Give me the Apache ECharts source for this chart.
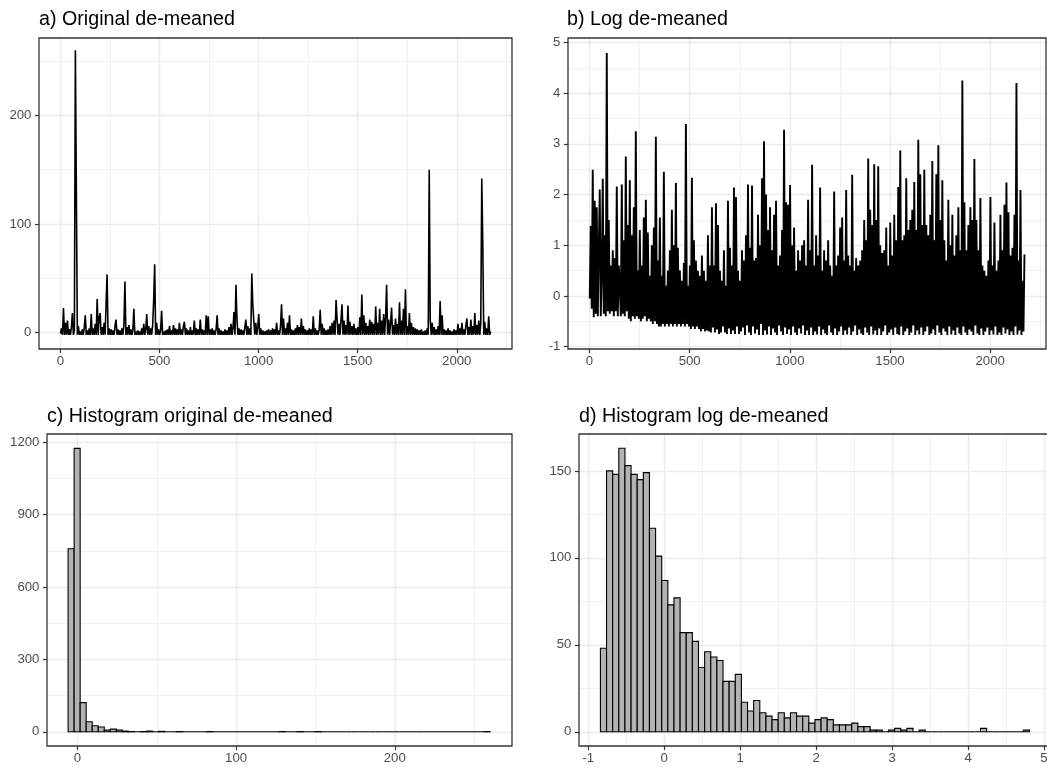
<!DOCTYPE html>
<html>
<head>
<meta charset="utf-8">
<title>De-meaned series</title>
<script src="https://cdn.jsdelivr.net/npm/echarts@6/dist/echarts.min.js"></script>
<style>
html, body { margin: 0; padding: 0; background: #fff; }
#chart { width: 1047px; height: 767px; }
</style>
</head>
<body>
<div id="chart"></div>
<script>
// time series, one value read every 5th observation (index 1, 6, 11, ...)
var seriesStep = 5;
var origVals = [
  -1, 4, -2, 22.6, -2.1, 9, -2, 11, -2.1, 3,
  -2, 5, 18, -2.1, 2, 260, 129, -2, 6, -2.1,
  1, -2.1, 3, -2, 5, 16, -2.1, 2, -2, 4,
  -2.1, 17, -2, 4, -2.1, 8, -2, 31, -2.1, 14,
  18, -2, 5, -2.1, 9, -2, 27, 53.6, -2.1, 4,
  -2.1, 3, -2, 2, -2.1, 6, 12, -2, 3, -2.1,
  2, -2.1, 4, -2, 8, 47, -2.1, 5, -2, 7,
  -2.1, 3, -2, 2, 22, -2.1, 1, -2, 2, -2.1,
  1, -2.1, 4, -2, 8, -2.1, 3, 17, -2, 6,
  -2.1, 4, -2, 7, 30, 63, -2.1, 9, -2, 3,
  -2.1, 2, 20, -2, 1, -2.1, 2, -2, 3, -2.1,
  6, -2.1, 2, -2, 7, -2.1, 4, -2, 3, -2.1,
  9, -2, 3, -2.1, 6, 10, -2, 4, -2.1, 2,
  -2, 5, -2.1, 2, -2, 11, -2.1, 4, -2, 3,
  -2.1, 12, -2, 3, -2.1, 2, -2, 16, -2.1, 15,
  -2, 3, -2.1, 4, -2, 2, -2.1, 3, 16, -2,
  4, -2.1, 2, -2, 1, -2.1, 3, -2, 2, -2.1,
  5, -2, 8, -2.1, 4, 19, -2, 44, 13, -2.1,
  4, -2, 3, -2.1, 2, -2, 5, 12, -2.1, 6,
  -2, 4, -2.1, 54.5, 26, 11, -2, 9, -2.1, 5,
  17, -2, 4, -2.1, 2, -2, 1, -2.1, 2, -2,
  3, -2.1, 2, -2, 4, -2.1, 3, -2, 9, -2.1,
  2, -2, 6, 26, -2.1, 13, -2, 4, -2.1, 9,
  -2, 16, -2.1, 3, -2, 2, -2.1, 4, -2, 7,
  -2.1, 5, -2, 13, -2.1, 6, -2, 3, -2.1, 2,
  -2, 4, -2.1, 3, -2, 15, -2.1, 4, -2, 2,
  -2.1, 3, 21, -2, 8, -2.1, 4, -2, 2, -2.1,
  3, -2, 6, -2.1, 9, -2, 11, -2.1, 30, 13,
  -2, 8, -2.1, 12, 26, -2, 11, -2.1, 7, -2,
  25, -2.1, 10, -2, 6, -2.1, 8, -2, 4, -2.1,
  5, -2, 14, -2.1, 35, -2, 16, -2.1, 9, -2,
  6, -2.1, 12, -2, 10, -2.1, 8, -2, 24, -2.1,
  9, -2, 22, -2.1, 11, -2, 17, -2.1, 14, 44,
  -2, 12, -2.1, 9, 23, -2, 7, -2.1, 13, -2,
  8, -2.1, 28, -2, 11, -2.1, 22, -2, 40, -2.1,
  6, -2, 18, -2.1, 9, -2, 5, -2.1, 4, -2,
  3, -2.1, 2, -2, 3, -2.1, 1, -2, 2, -2.1,
  4, -2, 150, 12, -2.1, 9, -2, 5, -2.1, 3,
  -2, 6, -2.1, 29, -2, 16, -2.1, 3, -2, 2,
  -2.1, 4, -2, 2, -2.1, 1, -2, 3, -2.1, 2,
  -2, 8, -2.1, 4, -2, 9, -2.1, 3, -2, 7,
  13, -2.1, 5, -2, 12, -2.1, 6, -2, 18, -2.1,
  7, -2, 11, -2.1, 9, 142, 83, -2, 10, -2.1,
  4, -2, 15, -2.1, 1
];
var logVals = [
  -0.05, 1.38, -0.25, 2.49, -0.42, 1.88, -0.35, 1.75, -0.4, 0.9,
  2.1, -0.4, 0.4, 2.31, -0.35, 1.2, -0.4, 4.79, -0.3, 1.5,
  -0.35, 0.6, -0.3, 0.9, -0.4, 0.75, -0.3, 2.16, -0.4, 0.6,
  0.2, -0.4, 2.2, -0.35, 1.1, -0.4, 2.75, -0.3, 1.4, -0.45,
  2.28, -0.5, 1.2, -0.4, 1.75, -0.45, 3.25, -0.4, 0.5, -0.45,
  1.3, -0.5, 0.6, -0.45, 1.55, -0.4, 1.9, -0.5, 1.25, -0.45,
  0.4, -0.5, 1.0, -0.55, 1.35, -0.5, 3.14, -0.55, 0.7, -0.6,
  1.55, -0.6, 0.4, -0.55, 2.45, -0.6, 0.2, -0.55, 0.5, -0.6,
  0.9, -0.55, 1.7, -0.6, 1.0, -0.55, 2.23, -0.6, 0.95, -0.55,
  0.5, -0.6, 0.3, -0.55, 0.65, -0.6, 3.39, -0.55, 0.2, -0.6,
  0.6, -0.65, 2.33, -0.6, 1.1, -0.65, 0.7, -0.6, 0.5, -0.65,
  0.4, -0.7, 0.8, -0.65, 0.5, -0.7, 0.3, -0.68, 1.2, -0.7,
  0.6, -0.72, 1.75, -0.62, 0.6, -0.72, 1.83, -0.66, 1.4, -0.75,
  0.5, -0.72, 0.3, -0.6, 0.9, -0.72, 0.2, -0.75, 1.88, -0.64,
  0.95, -0.75, 0.6, -0.68, 2.14, -0.75, 1.95, -0.6, 0.5, -0.75,
  0.3, -0.7, 0.9, -0.62, 0.7, -0.77, 1.2, -0.58, 2.2, -0.72,
  0.95, -0.77, 2.18, -0.6, 0.7, -0.74, 0.75, -0.66, 1.6, -0.77,
  1.0, -0.55, 2.32, -0.77, 3.05, -0.68, 2.0, -0.76, 1.3, -0.6,
  1.75, -0.77, 0.9, -0.64, 1.6, -0.72, 1.88, -0.77, 0.6, -0.58,
  0.8, -0.7, 1.3, -0.77, 3.28, -0.62, 1.85, -0.75, 1.8, -0.66,
  2.19, -0.77, 1.0, -0.6, 1.35, -0.72, 0.5, -0.77, 0.9, -0.64,
  0.7, -0.74, 1.0, -0.58, 1.1, -0.77, 0.6, -0.68, 1.9, -0.77,
  0.9, -0.62, 2.59, -0.77, 0.6, -0.7, 1.2, -0.76, 0.8, -0.6,
  2.14, -0.77, 0.5, -0.66, 0.9, -0.74, 0.7, -0.77, 1.1, -0.58,
  0.6, -0.72, 0.4, -0.77, 2.06, -0.64, 0.6, -0.77, 0.8, -0.7,
  1.35, -0.6, 1.55, -0.77, 0.7, -0.68, 2.09, -0.76, 0.8, -0.62,
  0.6, -0.77, 2.39, -0.7, 0.5, -0.58, 0.75, -0.77, 0.6, -0.66,
  0.7, -0.74, 0.9, -0.77, 1.5, -0.62, 1.1, -0.72, 2.71, -0.77,
  1.7, -0.6, 1.4, -0.76, 2.6, -0.68, 1.5, -0.77, 2.56, -0.64,
  1.0, -0.77, 0.85, -0.7, 0.9, -0.58, 1.35, -0.77, 0.6, -0.72,
  1.45, -0.66, 0.8, -0.77, 1.6, -0.62, 1.1, -0.75, 2.15, -0.77,
  2.87, -0.6, 1.1, -0.77, 1.2, -0.7, 2.32, -0.64, 1.3, -0.77,
  1.5, -0.72, 1.7, -0.58, 2.25, -0.77, 1.3, -0.68, 3.08, -0.76,
  2.4, -0.62, 1.4, -0.77, 2.49, -0.7, 1.4, -0.6, 1.2, -0.77,
  1.6, -0.74, 2.66, -0.66, 1.1, -0.77, 2.4, -0.58, 2.97, -0.72,
  1.5, -0.77, 2.28, -0.64, 1.1, -0.7, 0.7, -0.77, 1.9, -0.6,
  1.0, -0.76, 1.6, -0.68, 0.8, -0.77, 1.2, -0.62, 1.75, -0.74,
  0.9, -0.77, 4.25, -0.6, 1.85, -0.72, 0.9, -0.77, 1.4, -0.66,
  1.75, -0.7, 1.5, -0.77, 2.7, -0.58, 1.5, -0.74, 0.9, -0.77,
  1.93, -0.64, 0.6, -0.77, 0.5, -0.7, 0.4, -0.62, 0.7, -0.77,
  1.95, -0.68, 0.6, -0.76, 1.45, -0.6, 0.5, -0.77, 0.7, -0.72,
  1.6, -0.77, 0.9, -0.62, 1.8, -0.74, 2.24, -0.66, 1.65, -0.77,
  0.8, -0.7, 0.95, -0.77, 1.6, -0.6, 4.2, -0.76, 0.7, -0.68,
  2.09, -0.77, 0.3, -0.7, 0.82
];

// histograms: 70 bins each
var histOrigStart = -5.9, histOrigWidth = 3.8;
var histOrigCounts = [
  759, 1175, 121, 42, 25, 20, 7, 11, 7, 3,
  1, 0, 1, 3, 0, 2, 0, 0, 1, 0,
  0, 0, 0, 1, 0, 0, 0, 0, 0, 0,
  0, 0, 0, 0, 0, 1, 0, 0, 1, 0,
  0, 1, 0, 0, 0, 0, 0, 0, 0, 0,
  0, 0, 0, 0, 0, 0, 0, 0, 0, 0,
  0, 0, 0, 0, 0, 0, 0, 0, 0, 1
];
var histLogStart = -0.84, histLogWidth = 0.0807;
var histLogCounts = [
  48, 150, 148, 163, 153, 148, 145, 149, 117, 101,
  87, 73, 77, 57, 57, 52, 37, 46, 43, 41,
  29, 29, 33, 17, 12, 18, 11, 9, 7, 11,
  8, 11, 9, 9, 5, 7, 8, 7, 4, 4,
  4, 5, 3, 3, 1, 1, 0, 1, 2, 1,
  2, 0, 1, 0, 0, 0, 0, 0, 0, 0,
  0, 0, 2, 0, 0, 0, 0, 0, 0, 1
];

// axis ticks (major labelled, minor grid only)
var tsXTicks = [0, 500, 1000, 1500, 2000];
var tsXMinor = [250, 750, 1250, 1750, 2250];
var origYTicks = [0, 100, 200];
var origYMinor = [50, 150, 250];
var logYTicks = [-1, 0, 1, 2, 3, 4, 5];
var logYMinor = [-0.5, 0.5, 1.5, 2.5, 3.5, 4.5];
var hOrigXTicks = [0, 100, 200];
var hOrigXMinor = [50, 150, 250];
var hOrigYTicks = [0, 300, 600, 900, 1200];
var hOrigYMinor = [150, 450, 750, 1050];
var hLogXTicks = [-1, 0, 1, 2, 3, 4, 5];
var hLogXMinor = [-0.5, 0.5, 1.5, 2.5, 3.5, 4.5];
var hLogYTicks = [0, 50, 100, 150];
var hLogYMinor = [25, 75, 125];

var titles = ['a) Original de-meaned', 'b) Log de-meaned', 'c) Histogram original de-meaned', 'd) Histogram log de-meaned'];

var FONT = '"Liberation Sans", Arial, sans-serif';

function toXY(vals) {
    return vals.map(function (v, i) { return [1 + i * seriesStep, v]; });
}
function toBins(start, width, counts) {
    return counts.map(function (c, i) { return [start + i * width, start + (i + 1) * width, c]; });
}

function mainAxis(g, min, max, ticks, isX) {
    return {
        type: 'value', gridIndex: g, min: min, max: max,
        position: isX ? 'bottom' : 'left',
        axisLine: { show: false, onZero: false },
        axisTick: { show: true, length: 4.1, customValues: ticks, lineStyle: { color: '#333333', width: 1.2 } },
        axisLabel: {
            customValues: ticks, color: '#4d4d4d', fontSize: 13.2, fontFamily: FONT, margin: isX ? 6 : 7.6,
            formatter: function (v) { return String(v); }
        },
        splitLine: { show: true, lineStyle: { color: '#ebebeb', width: 1.4 } }
    };
}
function minorAxis(g, min, max, ticks, isX) {
    return {
        type: 'value', gridIndex: g, min: min, max: max,
        position: isX ? 'top' : 'right',
        axisLine: { show: false, onZero: false },
        axisTick: { show: false, customValues: ticks },
        axisLabel: { show: false, customValues: ticks },
        splitLine: { show: true, lineStyle: { color: '#ebebeb', width: 0.7 } }
    };
}

var grids = [
    { left: 39, top: 38, width: 473, height: 311 },
    { left: 568, top: 38, width: 478, height: 311 },
    { left: 47, top: 434, width: 465, height: 312 },
    { left: 579, top: 434, width: 472, height: 312 }
];
grids.forEach(function (gr) {
    gr.show = true;
    gr.borderColor = '#333333';
    gr.borderWidth = 1.3;
    gr.backgroundColor = 'transparent';
    gr.containLabel = false;
    gr.outerBoundsMode = 'none';
    gr.z = 5;
});

var xAxes = [
    mainAxis(0, -107.5, 2278.5, tsXTicks, true), minorAxis(0, -107.5, 2278.5, tsXMinor, true),
    mainAxis(1, -107.5, 2278.5, tsXTicks, true), minorAxis(1, -107.5, 2278.5, tsXMinor, true),
    mainAxis(2, -19.2, 273.9, hOrigXTicks, true), minorAxis(2, -19.2, 273.9, hOrigXMinor, true),
    mainAxis(3, -1.122, 5.092, hLogXTicks, true), minorAxis(3, -1.122, 5.092, hLogXMinor, true)
];
var yAxes = [
    mainAxis(0, -15.1, 271.3, origYTicks, false), minorAxis(0, -15.1, 271.3, origYMinor, false),
    mainAxis(1, -1.045, 5.087, logYTicks, false), minorAxis(1, -1.045, 5.087, logYMinor, false),
    mainAxis(2, -58.8, 1234.8, hOrigYTicks, false), minorAxis(2, -58.8, 1234.8, hOrigYMinor, false),
    mainAxis(3, -8.15, 171.2, hLogYTicks, false), minorAxis(3, -8.15, 171.2, hLogYMinor, false)
];

var titlePos = [[39, 10], [567, 10], [47, 406.5], [579, 406.5]];

function histItem(params, api) {
    var p0 = api.coord([api.value(0), 0]);
    var p1 = api.coord([api.value(1), api.value(2)]);
    return {
        type: 'rect',
        shape: { x: p0[0], y: p1[1], width: p1[0] - p0[0], height: p0[1] - p1[1] },
        style: { fill: '#b3b3b3', stroke: '#000', lineWidth: 1.1 }
    };
}

var chart = echarts.init(document.getElementById('chart'), null, { renderer: 'canvas' });
chart.setOption({
    animation: false,
    backgroundColor: '#ffffff',
    title: titles.map(function (t, i) {
        return {
            text: t, left: titlePos[i][0], top: titlePos[i][1], padding: 0,
            textStyle: { fontSize: 19.7, fontWeight: 'normal', color: '#000', fontFamily: FONT }
        };
    }),
    grid: grids,
    xAxis: xAxes,
    yAxis: yAxes,
    series: [
        {
            type: 'line', xAxisIndex: 0, yAxisIndex: 0, data: toXY(origVals),
            showSymbol: false, symbol: 'none', silent: true,
            lineStyle: { color: '#000', width: 1.6 }
        },
        {
            type: 'line', xAxisIndex: 2, yAxisIndex: 2, data: toXY(logVals),
            showSymbol: false, symbol: 'none', silent: true,
            lineStyle: { color: '#000', width: 1.9 }
        },
        {
            type: 'custom', xAxisIndex: 4, yAxisIndex: 4, silent: true,
            data: toBins(histOrigStart, histOrigWidth, histOrigCounts),
            encode: { x: [0, 1], y: 2 }, renderItem: histItem
        },
        {
            type: 'custom', xAxisIndex: 6, yAxisIndex: 6, silent: true,
            data: toBins(histLogStart, histLogWidth, histLogCounts),
            encode: { x: [0, 1], y: 2 }, renderItem: histItem
        }
    ]
});
</script>
</body>
</html>
